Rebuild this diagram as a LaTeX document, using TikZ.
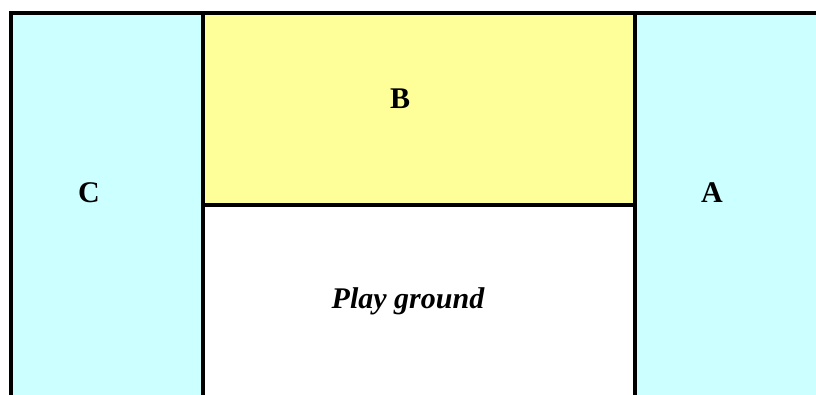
\documentclass[tikz,border=0pt]{standalone}
\usepackage{fontspec}
\setmainfont{Liberation Serif}
\definecolor{cyanfill}{HTML}{CCFFFF}
\definecolor{yellowfill}{HTML}{FFFF99}
\tikzset{
  wall/.style={line width=4.2pt},
  lbl/.style={font=\fontsize{30}{36}\selectfont\bfseries, anchor=center, inner sep=0pt},
}
\begin{document}
\begin{tikzpicture}[x=1pt,y=-1pt]
\useasboundingbox (0,0) rectangle (816,394);
% fills
\fill[cyanfill] (11,13) rectangle (203,400);
\fill[yellowfill] (203,13) rectangle (635,205);
\fill[white] (203,205) rectangle (635,400);
\fill[cyanfill] (635,13) rectangle (820,400);
% walls
\coordinate (tl) at (11,13);
\coordinate (tr) at (820,13);
\coordinate (bl) at (11,400);
\coordinate (c1t) at (203,13);
\coordinate (c1b) at (203,400);
\coordinate (c2t) at (635,13);
\coordinate (c2b) at (635,400);
\coordinate (ml) at (203,205);
\coordinate (mr) at (635,205);
\draw[wall] (bl) -- (tl) -- (tr);
\draw[wall] (c1t) -- (c1b);
\draw[wall] (c2t) -- (c2b);
\draw[wall] (ml) -- (mr);
% labels
\node[lbl] (C) at (89,193) {C};
\node[lbl] (B) at (400,99) {B};
\node[lbl] (A) at (712,193) {A};
\node[lbl, anchor=base, font=\fontsize{30}{36}\selectfont\bfseries\itshape] (P) at (408,308) {Play ground};
\end{tikzpicture}
\end{document}
